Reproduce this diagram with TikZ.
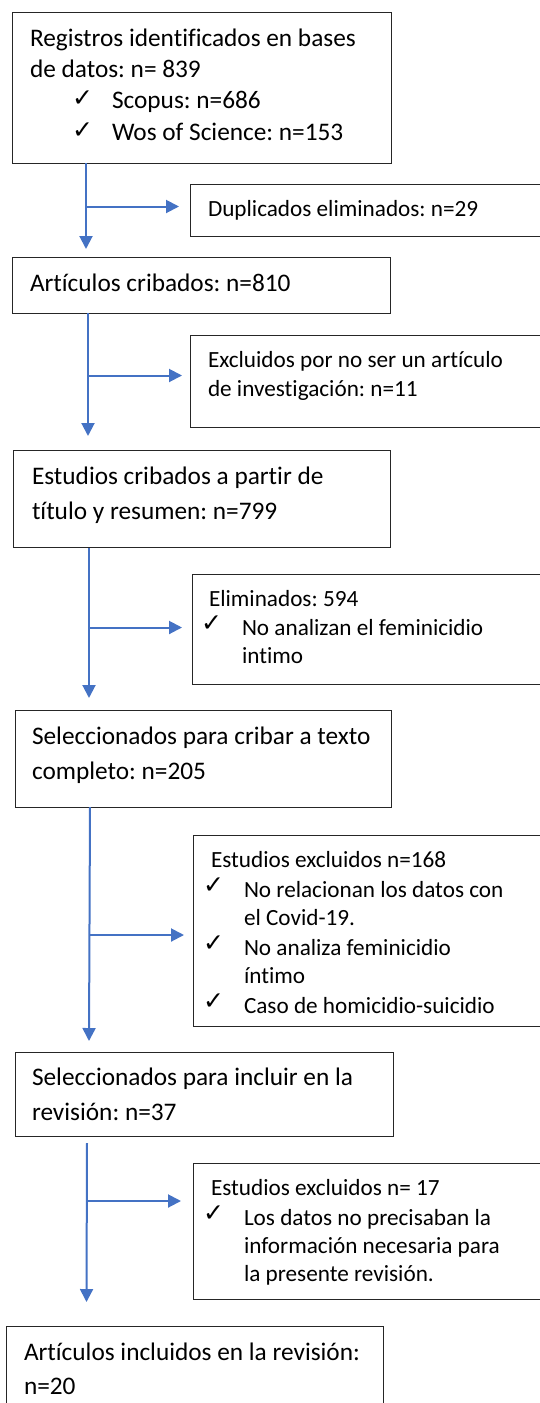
\documentclass[tikz,border=0pt]{standalone}
\usepackage{fontspec}
\setmainfont{Carlito}[Ligatures=NoCommon]
\newfontfamily\symf{DejaVu Sans}
\usetikzlibrary{arrows.meta}
\definecolor{flowblue}{HTML}{4472C4}
\frenchspacing
\begin{document}
\begin{tikzpicture}[x=1pt,y=-1pt,
  box/.style={draw=black!85, line width=1pt, rectangle, inner sep=0pt, outer sep=0pt, anchor=north west},
  txt/.style={inner sep=0pt, outer sep=0pt, anchor=base west, font=\frenchspacing\fontsize{23.2}{28}\selectfont, text=black},
  bigtxt/.style={txt, font=\frenchspacing\fontsize{25.3}{30}\selectfont},
  chk/.style={inner sep=0pt, outer sep=0pt, anchor=base west, font=\fontsize{25}{25}\symf, text=black},
  arr/.style={draw=flowblue, line width=2pt, -{Triangle[width=13pt,length=13pt]}}]
\useasboundingbox (0,0) rectangle (539,1403);
% boxes
\node[box, minimum width=379pt, minimum height=151pt] (b1) at (12,12) {};
\node[box, minimum width=355pt, minimum height=52pt] (dup) at (190,184) {};
\node[box, minimum width=378pt, minimum height=56pt] (b2) at (12,257) {};
\node[box, minimum width=355pt, minimum height=92pt] (ex1) at (190,335) {};
\node[box, minimum width=377pt, minimum height=97pt] (b3) at (13,450) {};
\node[box, minimum width=353pt, minimum height=110pt] (ex2) at (192,574) {};
\node[box, minimum width=376pt, minimum height=97pt] (b4) at (15,710) {};
\node[box, minimum width=352pt, minimum height=191pt] (ex3) at (193,835) {};
\node[box, minimum width=378pt, minimum height=84pt] (b5) at (15,1052) {};
\node[box, minimum width=352pt, minimum height=136pt] (ex4) at (193,1163) {};
\node[box, minimum width=377pt, minimum height=90pt] (b6) at (6,1326) {};
% texts
\node[bigtxt] (t1a) at (30,46) {Registros identificados en bases};
\node[bigtxt] (t1b) at (30,77) {de datos: n= 839};
\node[chk] (c1a) at (72,106) {✓};
\node[bigtxt] (t1c) at (112,108.5) {Scopus: n=686};
\node[chk] (c1b) at (72,138) {✓};
\node[bigtxt] (t1d) at (112,140) {Wos of Science: n=153};
\node[txt] (tdup) at (208,216) {Duplicados eliminados: n=29};
\node[bigtxt] (t2) at (30,291) {Artículos cribados: n=810};
\node[txt] (tex1a) at (208,367) {Excluidos por no ser un artículo};
\node[txt] (tex1b) at (208,396) {de investigación: n=11};
\node[bigtxt] (t3a) at (32,484) {Estudios cribados a partir de};
\node[bigtxt] (t3b) at (32,519) {título y resumen: n=799};
\node[txt] (tex2a) at (209,606) {Eliminados: 594};
\node[chk] (c2a) at (201,631) {✓};
\node[txt] (tex2b) at (242,635) {No analizan el feminicidio};
\node[txt] (tex2c) at (242,663.5) {intimo};
\node[bigtxt] (t4a) at (32,744) {Seleccionados para cribar a texto};
\node[bigtxt] (t4b) at (32,779) {completo: n=205};
\node[txt] (tex3a) at (211,867) {Estudios excluidos n=168};
\node[chk] (c3a) at (203,893) {✓};
\node[txt] (tex3b) at (244,897) {No relacionan los datos con};
\node[txt] (tex3c) at (244,925) {el Covid-19.};
\node[chk] (c3b) at (203,951) {✓};
\node[txt] (tex3d) at (244,955) {No analiza feminicidio};
\node[txt] (tex3e) at (244,983) {íntimo};
\node[chk] (c3c) at (203,1009) {✓};
\node[txt] (tex3f) at (244,1013) {Caso de homicidio-suicidio};
\node[bigtxt] (t5a) at (32,1085) {Seleccionados para incluir en la};
\node[bigtxt] (t5b) at (32,1120.5) {revisión: n=37};
\node[txt] (tex4a) at (211,1195) {Estudios excluidos n= 17};
\node[chk] (c4a) at (203,1221) {✓};
\node[txt] (tex4b) at (244,1225) {Los datos no precisaban la};
\node[txt] (tex4c) at (244,1253) {información necesaria para};
\node[txt] (tex4d) at (244,1281) {la presente revisión.};
\node[bigtxt] (t6a) at (24,1360.5) {Artículos incluidos en la revisión:};
\node[bigtxt] (t6b) at (24,1394) {n=20};
% connector coordinates
\coordinate (s1) at (86,163); \coordinate (e1) at (86,249);
\coordinate (j1) at (86,206.5); \coordinate (h1) at (179,206.5);
\coordinate (s2) at (88,313); \coordinate (e2) at (88,436);
\coordinate (j2) at (88,375.5); \coordinate (h2) at (182,375.5);
\coordinate (s3) at (89,548); \coordinate (e3) at (89,698);
\coordinate (j3) at (89,627.5); \coordinate (h3) at (182,627.5);
\coordinate (s4) at (90,807); \coordinate (e4) at (89,1041);
\coordinate (j4) at (89.55,935); \coordinate (h4) at (184,935);
\coordinate (s5) at (87,1143); \coordinate (e5) at (86.5,1302);
\coordinate (j5) at (86.8,1201); \coordinate (h5) at (181,1201);
% connectors
\draw[arr] (s1) -- (e1);
\draw[arr] (j1) -- (h1);
\draw[arr] (s2) -- (e2);
\draw[arr] (j2) -- (h2);
\draw[arr] (s3) -- (e3);
\draw[arr] (j3) -- (h3);
\draw[arr] (s4) -- (e4);
\draw[arr] (j4) -- (h4);
\draw[arr] (s5) -- (e5);
\draw[arr] (j5) -- (h5);
\end{tikzpicture}
\end{document}
